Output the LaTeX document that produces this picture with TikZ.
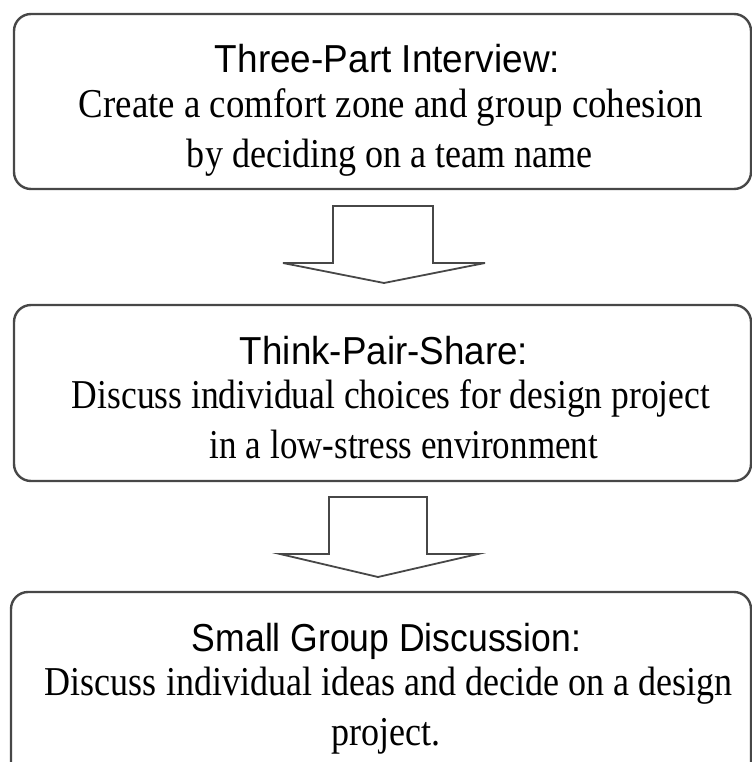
\documentclass[tikz,border=0pt]{standalone}
\usepackage{fontspec}
\setmainfont{Liberation Serif}
\setsansfont{Liberation Sans}
\newcommand{\fitw}[2]{\resizebox{#1}{\height}{#2}}
\tikzset{
  stepbox/.style={draw=black!72, line width=2.4bp, rounded corners=17bp, fill=white},
  blockarrow/.style={draw=black!72, line width=1.8bp, fill=white, line join=miter},
  headline/.style={anchor=base, inner sep=0pt, font=\sffamily\fontsize{39bp}{44bp}\selectfont},
  bodyline/.style={anchor=base, inner sep=0pt, font=\rmfamily\fontsize{41bp}{44bp}\selectfont},
}
\begin{document}
\begin{tikzpicture}[x=1bp, y=-1bp]
\useasboundingbox (0,0) rectangle (752,762);
\clip (0,0) rectangle (752,762);
% boxes
\draw[stepbox] (14,14) rectangle (751,189);
\node[inner sep=0pt] (b1) at (382.5,101.5) {};
\draw[stepbox] (14,305) rectangle (751,481);
\node[inner sep=0pt] (b2) at (382.5,393) {};
\draw[stepbox] (11,592) rectangle (751,780);
\node[inner sep=0pt] (b3) at (381,686) {};
% texts box 1
\node[headline] (t1a) at (387.5,73) {\fitw{345bp}{Three-Part Interview:}};
\node[bodyline] (t1b) at (391,117) {\fitw{624bp}{Create a comfort zone and group cohesion}};
\node[bodyline] (t1c) at (389.5,167) {\fitw{405bp}{by deciding on a team name}};
% texts box 2
\node[headline] (t2a) at (384,364) {\fitw{288bp}{Think-Pair-Share:}};
\node[bodyline] (t2b) at (391,408) {\fitw{638bp}{Discuss individual choices for design project}};
\node[bodyline] (t2c) at (404,458) {\fitw{388bp}{in a low-stress environment}};
% texts box 3
\node[headline] (t3a) at (386.5,651) {\fitw{389bp}{Small Group Discussion:}};
\node[bodyline] (t3b) at (388.5,695) {\fitw{687bp}{Discuss individual ideas and decide on a design}};
\node[bodyline] (t3c) at (385.5,745) {\fitw{109bp}{project.}};
% block arrows
\coordinate (a1) at (383,206);
\coordinate (a2) at (378,497);
\draw[blockarrow] (a1) +(-50,0) -- +(-50,57) -- +(-100,57) -- +(1,77) -- +(102,57) -- +(50,57) -- +(50,0) -- cycle;
\draw[blockarrow] (a2) +(-49,0) -- +(-49,57) -- +(-98,57) -- +(0,80) -- +(100,57) -- +(49,57) -- +(49,0) -- cycle;
\end{tikzpicture}
\end{document}
